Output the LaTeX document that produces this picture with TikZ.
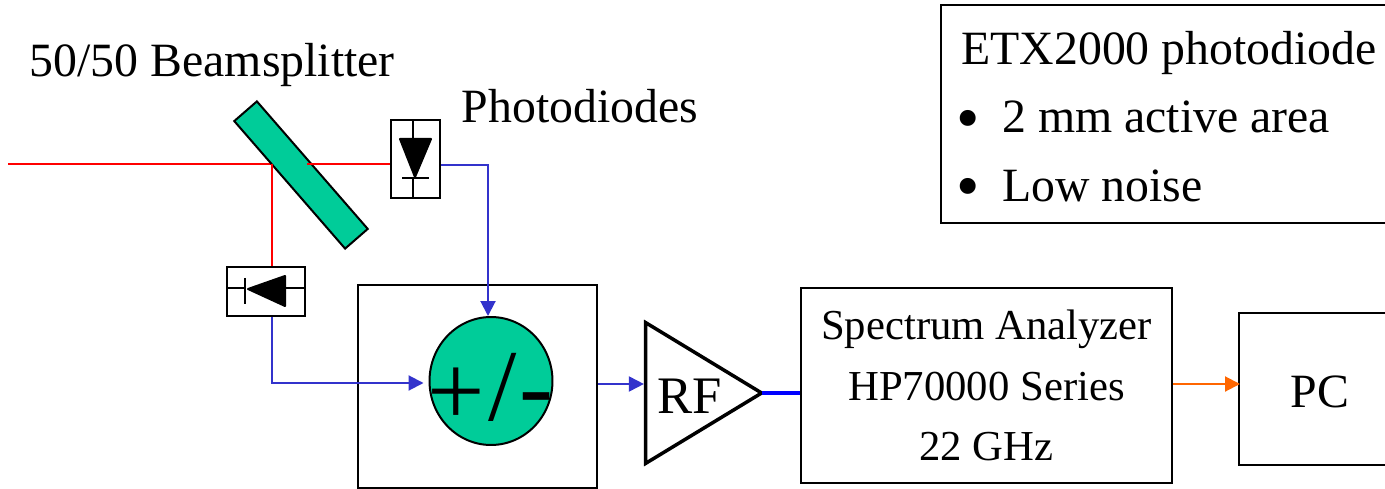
\documentclass[tikz,border=0pt]{standalone}
\usepackage{fontspec}
\usepackage{xcolor}
\usetikzlibrary{arrows.meta, shapes.geometric}
\setmainfont{Liberation Serif}
\definecolor{splittergreen}{RGB}{0,204,153}
\definecolor{signalblue}{RGB}{51,51,204}
\definecolor{pcorange}{RGB}{255,102,0}
\newcommand{\bigtext}{\fontsize{27.2}{27.2}\selectfont}
\newcommand{\midtext}{\fontsize{24.3}{34.6}\selectfont}
\tikzset{
	boxnode/.style={draw=black, fill=white, line width=0.04cm, inner sep=0pt, rectangle},
	labelnode/.style={font=\bigtext, anchor=base west, inner sep=0pt},
	bulletnode/.style={font=\fontsize{38}{38}\selectfont, anchor=base, inner sep=0pt},
	beamline/.style={draw=red, line width=0.04cm},
	signalline/.style={draw=signalblue, line width=0.04cm, -{Triangle[length=0.3cm, width=0.3cm]}},
}

\begin{document}
\begin{tikzpicture}[x=0.02cm, y=-0.02cm]
			\useasboundingbox (0,0) rectangle (1385,489);
			
			% Beamsplitter
			\node[labelnode] (bslabel) at (29.5,77) {50/50 Beamsplitter};
			\coordinate (beamstart) at (8,164);
			\coordinate (beamhit) at (272,164);
			\coordinate (beamexit) at (307,164);
			\draw[beamline] (beamstart) -- (beamhit);
			\node[draw=black, fill=splittergreen, line width=0.04cm, rotate=-49, minimum width=3.38cm, minimum height=0.6cm, inner sep=0pt] (splitter) at (301,175) {};
			\node[labelnode] (pdlabel) at (461.5,123) {Photodiodes};
			
			% Upper photodiode
			\node[boxnode, minimum width=0.98cm, minimum height=1.56cm] (pdright) at (415.5,159) {};
			\draw[line width=0.04cm] (413,120) -- (413,139);
			\draw[line width=0.04cm] (413,178) -- (413,198);
			\draw[line width=0.04cm] (402,178) -- (429,178);
			\fill[draw=black, line width=0.04cm, line join=round] (400,139) -- (431,139) -- (415,177) -- cycle;
			\draw[beamline] (beamexit) -- (beamexit -| pdright.west);
			
			% Lower photodiode
			\node[boxnode, minimum width=1.56cm, minimum height=0.98cm] (pddown) at (266,291.5) {};
			\draw[line width=0.04cm] (227,288) -- (246,288);
			\draw[line width=0.04cm] (285,288) -- (305,288);
			\draw[line width=0.04cm] (245,278) -- (245,304);
			\fill[draw=black, line width=0.04cm, line join=round] (285,276) -- (285,306) -- (248,289) -- cycle;
			\draw[beamline] (beamhit) -- (beamhit |- pddown.north);
			
			% Subtractor
			\node[boxnode, minimum width=4.78cm, minimum height=4.06cm] (subbox) at (477.5,386.5) {};
			\node[ellipse, draw=black, fill=splittergreen, line width=0.04cm, minimum width=2.46cm, minimum height=2.56cm, inner sep=0pt] (sub) at (491,381) {};
			\node[font=\fontsize{58}{58}\selectfont, anchor=base, inner sep=0pt] (subtext) at (490.5,420) {\raisebox{-0.1cm}{+}\kern0.06cm/\kern0.06cm-};
			\coordinate (turnright) at (488,165);
			\coordinate (turndown) at (272,383);
			\draw[signalline] (pdright.east |- turnright) -- (turnright) -- (turnright |- sub.north);
			\draw[signalline, shorten >=0.1cm] (pddown.south -| turndown) -- (turndown) -- (sub.west |- turndown);
			
			% RF amplifier
			\node[isosceles triangle, isosceles triangle apex angle=62.5, draw=black, line width=0.07cm, minimum height=2.32cm, inner sep=0pt, anchor=apex] (rf) at (765,393) {};
			\node[font=\fontsize{30}{30}\selectfont, anchor=base, inner sep=0pt] (rftext) at (689.5,413) {RF};
			\draw[signalline] (subbox.east |- 0,384) -- (rf.west |- 0,384);
			
			% Spectrum analyzer
			\node[boxnode, minimum width=7.42cm, minimum height=3.9cm, font=\midtext, align=center] (analyzer) at (986.5,385.5) {Spectrum Analyzer\\HP70000 Series\\22 GHz};
			\draw[draw=blue, line width=0.08cm, shorten <=-0.06cm] (rf.apex) -- (analyzer.west |- rf.apex);
			
			% PC
			\node[boxnode, minimum width=3.2cm, minimum height=3.04cm, anchor=north west] (pc) at (1238,312) {};
			\node[labelnode, anchor=base] (pctext) at (1320,407) {PC};
			\draw[draw=pcorange, line width=0.04cm, -{Triangle[length=0.3cm, width=0.3cm]}, shorten >=-0.04cm] (analyzer.east |- 0,384) -- (pc.west |- 0,384);
			
			% Photodiode notes
			\node[boxnode, minimum width=9.4cm, minimum height=4.36cm, anchor=north west] (notes) at (940,4.5) {};
			\node[labelnode] (notes1) at (961,65) {ETX2000 photodiode};
			\node[bulletnode] (bullet1) at (968,140.5) {•};
			\node[labelnode] (notes2) at (1002,133) {2 mm active area};
			\node[bulletnode] (bullet2) at (968,209) {•};
			\node[labelnode] (notes3) at (1002,202) {Low noise};
			
		\end{tikzpicture}
\end{document}
